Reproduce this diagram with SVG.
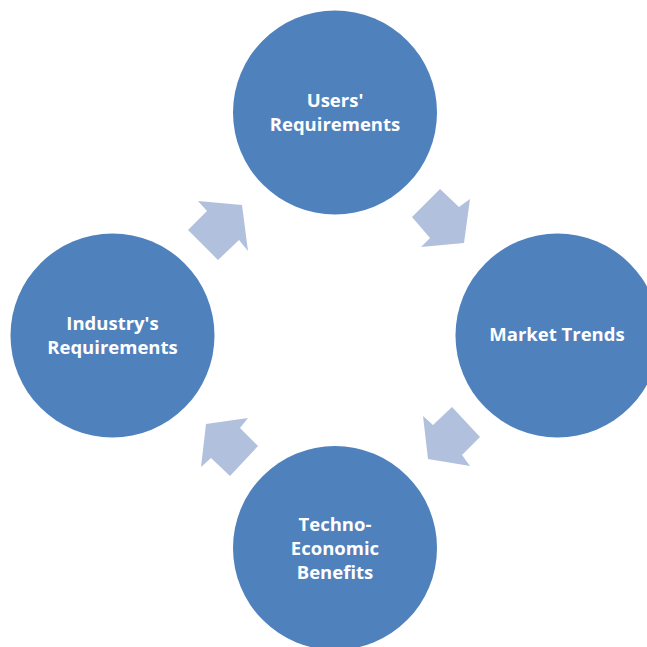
<svg xmlns="http://www.w3.org/2000/svg" width="647" height="647" viewBox="0 0 647 647">
<style>
.node{fill:#4F81BD;}
.arrow{fill:#B1C1DD;}
.lbl{fill:#FFFFFF;font-family:"Open Sans","Liberation Sans",sans-serif;font-weight:bold;font-size:18.5px;text-anchor:middle;}
</style>
<rect width="647" height="647" fill="#FFFFFF"/>
<g id="connectors">
<polygon class="arrow" points="198,201 242,205 248,251 239,240 218,260 188,230 207,211"/>
<polygon class="arrow" points="440,189 459,207 470,199 464,243 421,247 430,238 412,217"/>
<polygon class="arrow" points="452,407 480,437 462,455 470,466 428,459 423,416 433,425"/>
<polygon class="arrow" points="206,424 248,418 240,428 258,446 230,476 211,458 201,467"/>
</g>
<g id="users">
<circle class="node" cx="335" cy="112.5" r="102"/>
<text class="lbl" x="335" y="107">Users'</text>
<text class="lbl" x="335" y="131">Requirements</text>
</g>
<g id="market">
<circle class="node" cx="557.5" cy="335.5" r="102"/>
<text class="lbl" x="557" y="341">Market Trends</text>
</g>
<g id="techno">
<circle class="node" cx="335" cy="548" r="102"/>
<text class="lbl" x="335" y="530.5">Techno-</text>
<text class="lbl" x="335" y="554.5">Economic</text>
<text class="lbl" x="335" y="578.5">Benefits</text>
</g>
<g id="industry">
<circle class="node" cx="112.5" cy="335.5" r="102"/>
<text class="lbl" x="112.5" y="329.5">Industry's</text>
<text class="lbl" x="112.5" y="353.5">Requirements</text>
</g>
</svg>
